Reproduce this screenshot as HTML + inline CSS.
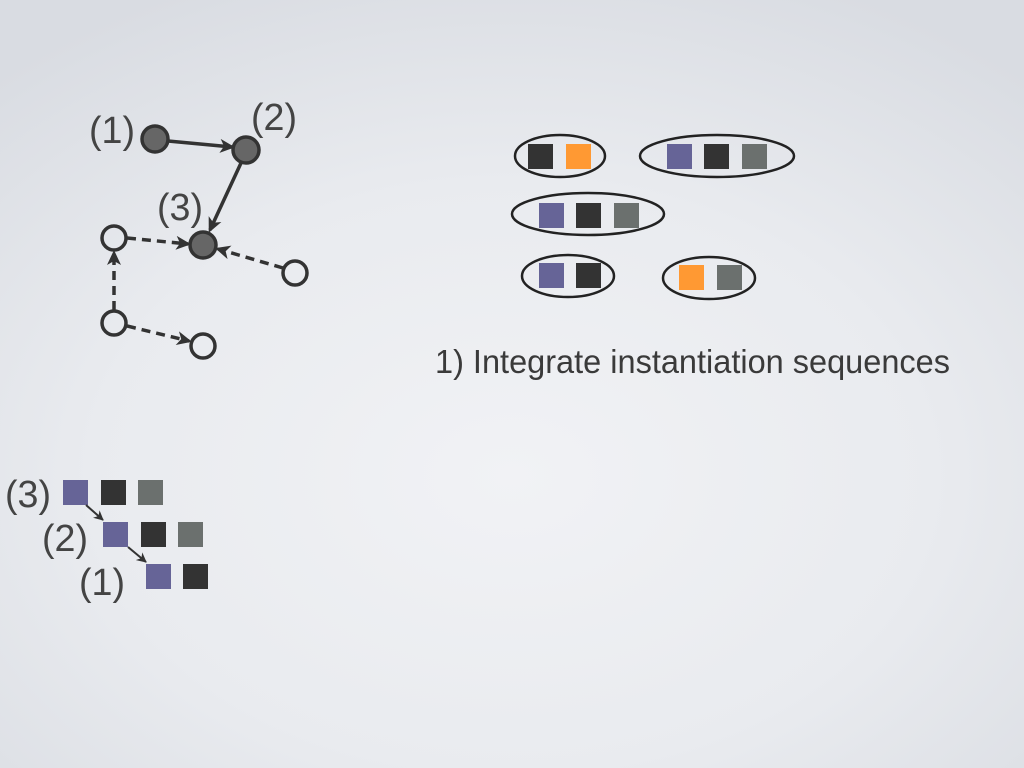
<!DOCTYPE html>
<html><head><meta charset="utf-8"><style>
html,body{margin:0;padding:0;width:1024px;height:768px;overflow:hidden}
body{background:radial-gradient(ellipse 75% 70% at 50% 62%,#f1f2f5 0%,#e9ebef 55%,#d9dce2 100%)}
svg{position:absolute;left:0;top:0}
text{font-family:"Liberation Sans",sans-serif;fill:#3a3a3a}
.lab{font-size:38px;fill:#444}
</style></head><body>
<svg width="1024" height="768" viewBox="0 0 1024 768">
<defs>
<marker id="a" markerWidth="15" markerHeight="14" refX="12" refY="7" orient="auto" markerUnits="userSpaceOnUse"><path d="M0,0 L15,7 L0,14 L4,7z" fill="#333"/></marker>
<marker id="s" markerWidth="10" markerHeight="10" refX="9" refY="5" orient="auto" markerUnits="userSpaceOnUse"><path d="M0,0 L10,5 L0,10 L3,5z" fill="#333"/></marker>
</defs>
<g stroke="#333" stroke-width="3.5" fill="none">
<line x1="168" y1="141" x2="232" y2="147" marker-end="url(#a)"/>
<line x1="241" y1="163" x2="210" y2="230" marker-end="url(#a)"/>
<g stroke-dasharray="9,6">
<line x1="127" y1="238" x2="188" y2="244" marker-end="url(#a)"/>
<line x1="283" y1="268" x2="218" y2="249" marker-end="url(#a)"/>
<line x1="114" y1="310" x2="114" y2="253" marker-end="url(#a)"/>
<line x1="127" y1="326" x2="189" y2="341" marker-end="url(#a)"/>
</g>
</g>
<g stroke="#333" stroke-width="3.5">
<circle cx="155" cy="139" r="13" fill="#666"/>
<circle cx="246" cy="150" r="13" fill="#666"/>
<circle cx="203" cy="245" r="13" fill="#666"/>
<circle cx="114" cy="238" r="12" fill="none"/>
<circle cx="295" cy="273" r="12" fill="none"/>
<circle cx="114" cy="323" r="12" fill="none"/>
<circle cx="203" cy="346" r="12" fill="none"/>
</g>
<text class="lab" x="89" y="143" textLength="46" lengthAdjust="spacingAndGlyphs">(1)</text>
<text class="lab" x="251" y="130" textLength="46" lengthAdjust="spacingAndGlyphs">(2)</text>
<text class="lab" x="157" y="220" textLength="46" lengthAdjust="spacingAndGlyphs">(3)</text>
<g fill="none" stroke="#222" stroke-width="2.5">
<ellipse cx="560" cy="156" rx="45" ry="21"/>
<ellipse cx="717" cy="156" rx="77" ry="21"/>
<ellipse cx="588" cy="214" rx="76" ry="21"/>
<ellipse cx="568" cy="276" rx="46" ry="21"/>
<ellipse cx="709" cy="278" rx="46" ry="21"/>
</g>
<g>
<rect x="528" y="144" width="25" height="25" fill="#333"/>
<rect x="566" y="144" width="25" height="25" fill="#ff9933"/>
<rect x="667" y="144" width="25" height="25" fill="#666497"/>
<rect x="704" y="144" width="25" height="25" fill="#333"/>
<rect x="742" y="144" width="25" height="25" fill="#6b706e"/>
<rect x="539" y="203" width="25" height="25" fill="#666497"/>
<rect x="576" y="203" width="25" height="25" fill="#333"/>
<rect x="614" y="203" width="25" height="25" fill="#6b706e"/>
<rect x="539" y="263" width="25" height="25" fill="#666497"/>
<rect x="576" y="263" width="25" height="25" fill="#333"/>
<rect x="679" y="265" width="25" height="25" fill="#ff9933"/>
<rect x="717" y="265" width="25" height="25" fill="#6b706e"/>
</g>
<text x="435" y="373" font-size="33" textLength="515" lengthAdjust="spacingAndGlyphs">1) Integrate instantiation sequences</text>
<g>
<rect x="63" y="480" width="25" height="25" fill="#666497"/>
<rect x="101" y="480" width="25" height="25" fill="#333"/>
<rect x="138" y="480" width="25" height="25" fill="#6b706e"/>
<rect x="103" y="522" width="25" height="25" fill="#666497"/>
<rect x="141" y="522" width="25" height="25" fill="#333"/>
<rect x="178" y="522" width="25" height="25" fill="#6b706e"/>
<rect x="146" y="564" width="25" height="25" fill="#666497"/>
<rect x="183" y="564" width="25" height="25" fill="#333"/>
</g>
<g stroke="#333" stroke-width="2">
<line x1="86" y1="505" x2="103" y2="520" marker-end="url(#s)"/>
<line x1="128" y1="547" x2="146" y2="562" marker-end="url(#s)"/>
</g>
<text class="lab" x="5" y="507" textLength="46" lengthAdjust="spacingAndGlyphs">(3)</text>
<text class="lab" x="42" y="551" textLength="46" lengthAdjust="spacingAndGlyphs">(2)</text>
<text class="lab" x="79" y="595" textLength="46" lengthAdjust="spacingAndGlyphs">(1)</text>
</svg>
</body></html>
